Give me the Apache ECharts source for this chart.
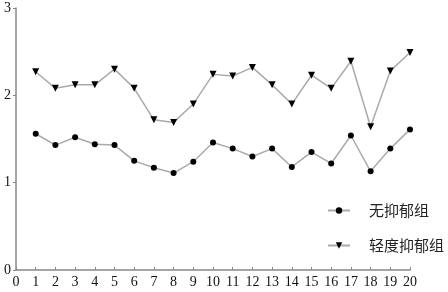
<!DOCTYPE html>
<html><head><meta charset="utf-8">
<script src="https://cdn.jsdelivr.net/npm/echarts@6/dist/echarts.min.js"></script>
<style>html,body{margin:0;padding:0;background:#fff}#c{width:448px;height:292px}</style>
</head><body><div id="c"></div>
<script>
const xValues = [1,2,3,4,5,6,7,8,9,10,11,12,13,14,15,16,17,18,19,20];
const noDepression = [1.56,1.43,1.52,1.44,1.43,1.25,1.17,1.11,1.24,1.46,1.39,1.30,1.39,1.18,1.35,1.22,1.54,1.13,1.39,1.61];
const mildDepression = [2.27,2.08,2.12,2.12,2.30,2.08,1.72,1.69,1.90,2.24,2.22,2.32,2.12,1.90,2.23,2.08,2.39,1.64,2.28,2.49];
const seriesNames = ['无抑郁组','轻度抑郁组'];

const chart = echarts.init(document.getElementById('c'));
const axisStyle = {lineStyle:{color:'#888',width:1.5}};
chart.setOption({
  animation:false,
  grid:{left:16,right:38,top:8,bottom:22,containLabel:false},
  legend:{orient:'vertical',left:322,top:198,itemWidth:22,itemHeight:8,itemGap:20,
    textStyle:{fontFamily:'Noto Sans CJK SC',fontSize:15,color:'#222',padding:[0,0,0,14]},
    data:seriesNames},
  xAxis:{type:'value',min:0,max:20,interval:1,axisLine:axisStyle,
    axisTick:{inside:true,length:3,lineStyle:{color:'#888'}},splitLine:{show:false},
    axisLabel:{fontFamily:'Liberation Serif',fontSize:14,color:'#111',margin:5}},
  yAxis:{type:'value',min:0,max:3,interval:1,axisLine:Object.assign({show:true},axisStyle),
    axisTick:{show:true,length:3,lineStyle:{color:'#888'}},splitLine:{show:false},
    axisLabel:{fontFamily:'Liberation Serif',fontSize:14,color:'#111',margin:5}},
  series:[
    {name:seriesNames[0],type:'line',data:xValues.map((x,i)=>[x,noDepression[i]]),
     symbol:'circle',symbolSize:6,lineStyle:{color:'#aaa',width:1.5},itemStyle:{color:'#000'}},
    {name:seriesNames[1],type:'line',data:xValues.map((x,i)=>[x,mildDepression[i]]),
     symbol:'triangle',symbolRotate:180,symbolSize:7,lineStyle:{color:'#aaa',width:1.5},itemStyle:{color:'#000'}}
  ]
});
</script></body></html>
